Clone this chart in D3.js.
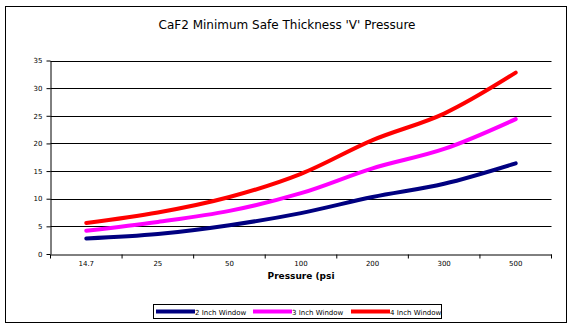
<!DOCTYPE html>
<html><head><meta charset="utf-8">
<script src="https://cdn.jsdelivr.net/npm/d3@7/dist/d3.min.js"></script>
<style>body{margin:0;background:#fff}svg{display:block;font-family:Tahoma,"DejaVu Sans",sans-serif}</style>
</head><body><svg id="c" width="575" height="334"></svg>
<script>
const categories = ["14.7","25","50","100","200","300","500"];
const seriesNames = ["2 Inch Window","3 Inch Window","4 Inch Window"];
const inch2 = [2.8, 3.6, 5.2, 7.4, 10.3, 12.7, 16.4];
const inch3 = [4.2, 5.8, 7.8, 11.0, 15.5, 19.0, 24.4];
const inch4 = [5.6, 7.5, 10.3, 14.5, 20.6, 25.4, 32.8];
const yTicks = [0,5,10,15,20,25,30,35];
const colors = ["#000080","#ff00ff","#ff0000"];
const series = [inch2, inch3, inch4];

const svg = d3.select("#c");
svg.append("rect").attr("x",5.5).attr("y",6.5).attr("width",561).attr("height",316)
  .attr("fill","#fff").attr("stroke","#000").attr("stroke-width",1);

const x = d3.scaleBand().domain(categories).range([50.5,551.5]);
const y = d3.scaleLinear().domain([0,35]).range([254,60.5]);

svg.append("text").attr("x",287).attr("y",29).attr("text-anchor","middle")
  .attr("font-size",12).text("CaF2 Minimum Safe Thickness 'V' Pressure");

// gridlines
svg.append("g").selectAll("line").data(yTicks.slice(1)).join("line")
  .attr("x1",50.5).attr("x2",551.5)
  .attr("y1",d=>Math.round(y(d))+0.5).attr("y2",d=>Math.round(y(d))+0.5)
  .attr("stroke","#000").attr("stroke-width",1);

// y axis
const ya = svg.append("g").attr("transform","translate(50.5,0)")
  .call(d3.axisLeft(y).tickValues(yTicks).tickSize(4).tickSizeOuter(0));
ya.select(".domain").attr("stroke","#000");
ya.selectAll("text").attr("font-size",7).attr("font-family","Tahoma,'DejaVu Sans',sans-serif").attr("dx",-1);

// x axis
const xa = svg.append("g").attr("transform","translate(0,254.5)")
  .call(d3.axisBottom(x).tickSize(0).tickPadding(7));
xa.select(".domain").attr("stroke","#000");
xa.selectAll("text").attr("font-size",7).attr("font-family","Tahoma,'DejaVu Sans',sans-serif");
const edges = categories.map(c=>x(c)).concat([x.range()[1]]);
xa.append("g").selectAll("line").data(edges).join("line")
  .attr("x1",d=>d).attr("x2",d=>d).attr("y1",0).attr("y2",4).attr("stroke","#000");

svg.append("text").attr("x",301).attr("y",279).attr("text-anchor","middle")
  .attr("font-size",9).attr("font-weight","bold").text("Pressure (psi");

const line = d3.line().x((d,i)=>x(categories[i])+x.bandwidth()/2).y(d=>y(d)).curve(d3.curveCatmullRom.alpha(0.5));
series.forEach((s,k)=>{
  svg.append("path").datum(s).attr("d",line).attr("fill","none")
    .attr("stroke",colors[k]).attr("stroke-width",4).attr("stroke-linecap","round");
});

// legend
svg.append("rect").attr("x",153.5).attr("y",304.5).attr("width",288).attr("height",14)
  .attr("fill","#fff").attr("stroke","#000");
const lx = [156,253,351];
seriesNames.forEach((n,k)=>{
  svg.append("line").attr("x1",lx[k]).attr("x2",lx[k]+39).attr("y1",311.5).attr("y2",311.5)
    .attr("stroke",colors[k]).attr("stroke-width",4);
  svg.append("text").attr("x",lx[k]+39).attr("y",314.5).attr("font-size",7).text(n);
});
</script></body></html>
